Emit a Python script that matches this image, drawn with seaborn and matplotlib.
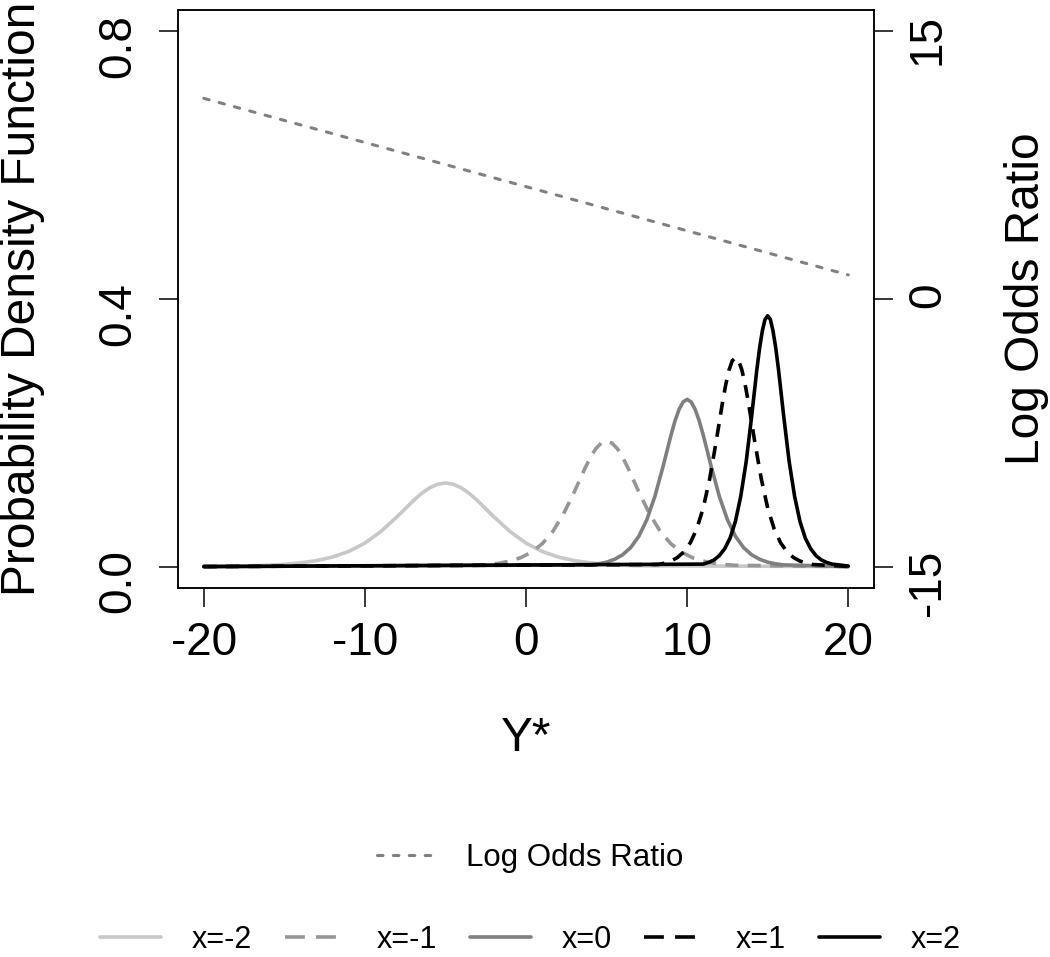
import matplotlib
matplotlib.use("Agg")
import matplotlib.pyplot as plt
from matplotlib.lines import Line2D
import seaborn as sns

# values (density curves of Y* for each x)
ystar_m2 = [-20, -17, -16, -15, -14, -13, -12, -11, -10, -9, -8, -7, -6.5, -6, -5.5,
            -5, -4.5, -4, -3.5, -3, -2, -1, 0, 1, 2, 3, 4, 5, 6, 7, 20]
pdf_m2 = [0.0003, 0.0012, 0.0020, 0.0033, 0.0055, 0.0089, 0.0143, 0.0226, 0.0351,
          0.0525, 0.0746, 0.0983, 0.1090, 0.1175, 0.1230, 0.1250, 0.1230, 0.1175,
          0.1090, 0.0983, 0.0746, 0.0525, 0.0351, 0.0226, 0.0143, 0.0089, 0.0055,
          0.0033, 0.0020, 0.0012, 0.0]

ystar_m1 = [-20, -3.0, -2.33, -1.67, -1.0, -0.33, 0.33, 1.0, 1.67, 2.33, 3.0, 3.67,
            4.0, 4.33, 4.67, 5.0, 5.33, 5.67, 6.0, 6.33, 7.0, 7.67, 8.33, 9.0, 9.67,
            10.33, 11.0, 11.67, 12.33, 13.0, 20]
pdf_m1 = [0.0, 0.0019, 0.0030, 0.0050, 0.0082, 0.0133, 0.0214, 0.0339, 0.0526,
          0.0788, 0.1118, 0.1475, 0.1634, 0.1763, 0.1846, 0.1875, 0.1846, 0.1763,
          0.1634, 0.1475, 0.1118, 0.0788, 0.0526, 0.0339, 0.0214, 0.0133, 0.0082,
          0.0050, 0.0030, 0.0019, 0.0]

ystar_0 = [-20, 4.0, 4.5, 5.0, 5.5, 6.0, 6.5, 7.0, 7.5, 8.0, 8.5, 9.0, 9.25, 9.5, 9.75,
           10.0, 10.25, 10.5, 10.75, 11.0, 11.5, 12.0, 12.5, 13.0, 13.5, 14.0, 14.5,
           15.0, 15.5, 16.0, 20]
pdf_0 = [0.0, 0.0025, 0.0041, 0.0066, 0.0109, 0.0177, 0.0285, 0.0452, 0.0701,
         0.1050, 0.1491, 0.1966, 0.2179, 0.2350, 0.2461, 0.2500, 0.2461, 0.2350,
         0.2179, 0.1966, 0.1491, 0.1050, 0.0701, 0.0452, 0.0285, 0.0177, 0.0109,
         0.0066, 0.0041, 0.0025, 0.0]

ystar_p1 = [-20, 8.2, 8.6, 9.0, 9.4, 9.8, 10.2, 10.6, 11.0, 11.4, 11.8, 12.2, 12.4,
            12.6, 12.8, 13.0, 13.2, 13.4, 13.6, 13.8, 14.2, 14.6, 15.0, 15.4, 15.8,
            16.2, 16.6, 17.0, 17.4, 17.8, 20]
pdf_p1 = [0.0, 0.0031, 0.0051, 0.0083, 0.0136, 0.0221, 0.0356, 0.0565, 0.0876,
          0.1313, 0.1864, 0.2458, 0.2724, 0.2938, 0.3076, 0.3125, 0.3076, 0.2938,
          0.2724, 0.2458, 0.1864, 0.1313, 0.0876, 0.0565, 0.0356, 0.0221, 0.0136,
          0.0083, 0.0051, 0.0031, 0.0002]

ystar_p2 = [-20, 11.0, 11.33, 11.67, 12.0, 12.33, 12.67, 13.0, 13.33, 13.67, 14.0,
            14.33, 14.5, 14.67, 14.83, 15.0, 15.17, 15.33, 15.5, 15.67, 16.0, 16.33,
            16.67, 17.0, 17.33, 17.67, 18.0, 18.33, 18.67, 19.0, 20]
pdf_p2 = [0.0, 0.0037, 0.0061, 0.0099, 0.0164, 0.0266, 0.0428, 0.0678, 0.1052,
          0.1575, 0.2237, 0.2949, 0.3269, 0.3525, 0.3692, 0.3750, 0.3692, 0.3525,
          0.3269, 0.2949, 0.2237, 0.1575, 0.1052, 0.0678, 0.0428, 0.0266, 0.0164,
          0.0099, 0.0061, 0.0037, 0.0008]

# log odds ratio (right axis), a straight line
lor_x = [-20, 20]
lor_y = [11.25, 1.35]

curve_labels = ["x=-2", "x=-1", "x=0", "x=1", "x=2"]

sns.set_style("ticks")
plt.rcParams["font.family"] = ["Liberation Sans", "DejaVu Sans"]
plt.rcParams["text.color"] = "black"
plt.rcParams["xtick.color"] = "black"
plt.rcParams["ytick.color"] = "black"

fig = plt.figure(figsize=(10.5, 9.57), dpi=100)
ax = fig.add_axes([0.1695, 0.3856, 0.6629, 0.6039])
ax2 = ax.twinx()

lw = 2.6
dashed = (0, (3.6, 2.6))
curves = [
    (ystar_m2, pdf_m2, "#c8c8c8", "-"),
    (ystar_m1, pdf_m1, "#969696", dashed),
    (ystar_0, pdf_0, "#7f7f7f", "-"),
    (ystar_p1, pdf_p1, "black", dashed),
    (ystar_p2, pdf_p2, "black", "-"),
]

for (xs, ys, col, ls), lab in zip(curves, curve_labels):
    sns.lineplot(x=xs, y=ys, ax=ax, color=col, linewidth=lw, linestyle=ls,
                 label=lab, legend=False, solid_joinstyle="round")

sns.lineplot(x=lor_x, y=lor_y, ax=ax2, color="#808080", linewidth=2.2,
             linestyle=(0, (1.8, 3.4)), legend=False)
ax2.lines[-1].set_dash_capstyle("round")

ax.set_xlim(-21.6, 21.6)
ax.set_ylim(-0.032, 0.832)
ax.set_xticks([-20, -10, 0, 10, 20])
ax.set_xticklabels(["-20", "-10", "0", "10", "20"])
ax.set_yticks([0.0, 0.4, 0.8])
ax.set_yticklabels(["0.0", "0.4", "0.8"])
ax2.set_ylim(-16.2, 16.2)
ax2.set_yticks([-15, 0, 15])
ax2.set_yticklabels(["-15", "0", "15"])

for a in (ax, ax2):
    for sp in a.spines.values():
        sp.set_linewidth(1.1)
        sp.set_color("black")
    a.tick_params(length=14, width=1.1, labelsize=33, color="black",
                  labelcolor="black", pad=10)
ax.tick_params(axis="y", labelrotation=90, pad=13)
ax2.tick_params(axis="y", labelrotation=90, pad=9)
ax.set_xlabel("")
ax.set_ylabel("")
ax2.set_ylabel("")

fig.text(0.021, 0.6876, "Probability Density Function", rotation=90,
         ha="center", va="center", fontsize=34.5)
fig.text(0.978, 0.6876, "Log Odds Ratio", rotation=90,
         ha="center", va="center", fontsize=34.5)
fig.text(0.501, 0.2288, "Y*", ha="center", va="center", fontsize=34.5)

# legends below the plot
lor_handle = Line2D([], [], color="#808080", linewidth=2.2,
                    linestyle=(0, (1.8, 3.4)), dash_capstyle="round")
fig.legend([lor_handle], ["Log Odds Ratio"], loc="center",
           bbox_to_anchor=(0.505, 0.1034), frameon=False, fontsize=22.5,
           handlelength=1.85, handletextpad=1.0)

leg_dash = (0, (5.5, 3.1))
handles = []
for xs, ys, col, ls in curves:
    handles.append(Line2D([], [], color=col, linewidth=lw,
                          linestyle=leg_dash if ls != "-" else "-"))
fig.legend(handles, curve_labels, loc="center", bbox_to_anchor=(0.505, 0.0178),
           ncol=5, frameon=False, fontsize=22, handlelength=2.0,
           handletextpad=1.0, columnspacing=1.08)

fig.savefig("out.png", dpi=100)
